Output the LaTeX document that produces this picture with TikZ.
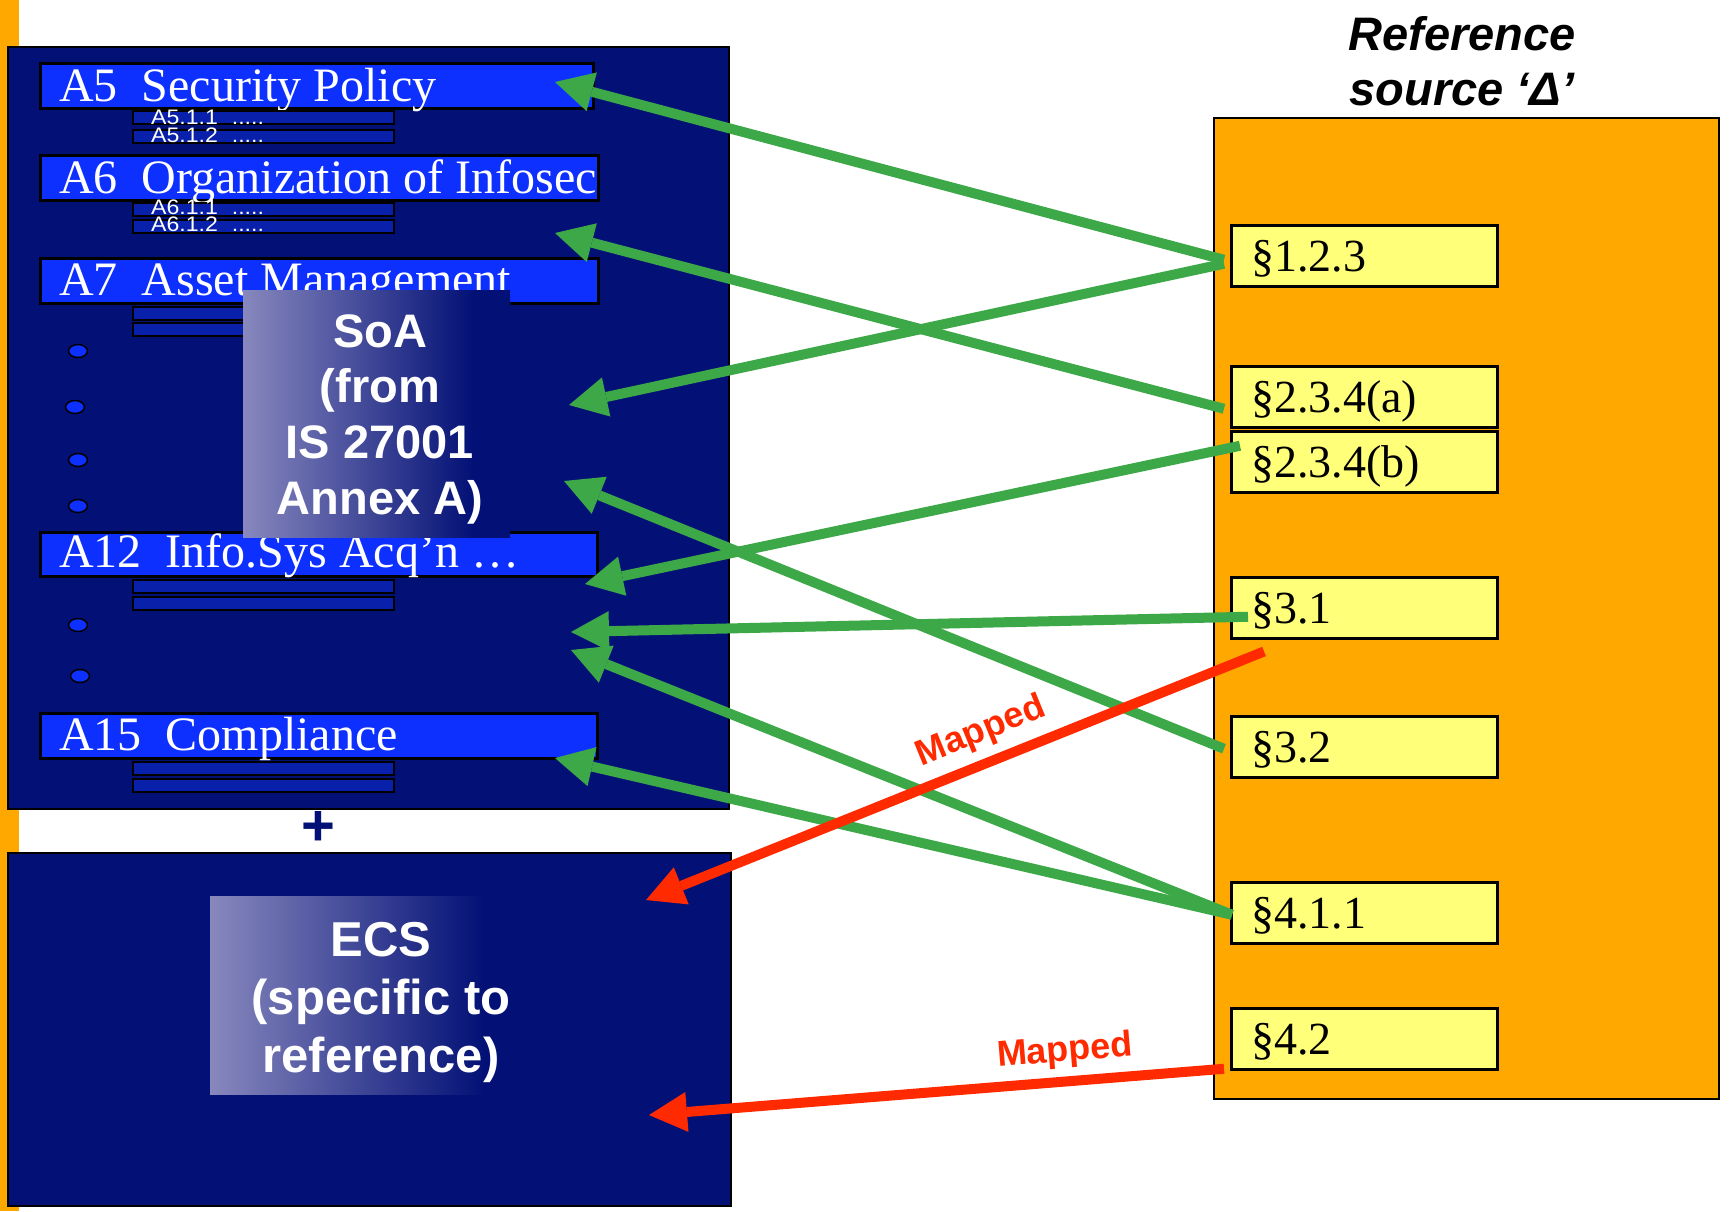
\documentclass[tikz,border=0pt]{standalone}
\usepackage{fontspec}
\setmainfont{Liberation Serif}
\newfontfamily\sansf{Liberation Sans}
\usetikzlibrary{arrows.meta,calc}

\definecolor{navy}{RGB}{3,17,118}
\definecolor{barblue}{RGB}{14,48,255}
\definecolor{subblue}{RGB}{8,32,170}
\definecolor{slideorange}{RGB}{255,168,0}
\definecolor{refyellow}{RGB}{255,255,122}
\definecolor{mapgreen}{RGB}{61,168,72}
\definecolor{mapred}{RGB}{255,42,0}
\definecolor{fadelight}{RGB}{136,136,190}

% light-to-navy fade used behind the two panel captions
\pgfdeclarehorizontalshading{panelfade}{100bp}{color(0bp)=(fadelight); color(25bp)=(fadelight); color(68bp)=(navy); color(100bp)=(navy)}

\tikzset{
  panel/.style={draw=black, line width=2pt, fill=navy, inner sep=0pt, anchor=north west},
  bar/.style={draw=black, line width=3pt, fill=barblue, inner sep=0pt, anchor=north west, minimum height=45pt},
  subbar/.style={draw=black, line width=2pt, fill=subblue, inner sep=0pt, anchor=north west, minimum width=261pt, minimum height=13pt},
  bartext/.style={text=white, font=\fontsize{48}{48}\selectfont, inner sep=0pt, anchor=base west},
  subtext/.style={text=white, font=\sansf\fontsize{21}{21}\selectfont, inner sep=0pt, anchor=base west},
  fadebox/.style={shade, shading=panelfade, inner sep=0pt, anchor=north west},
  fadetext/.style={text=white, font=\sansf\bfseries\fontsize{47}{47}\selectfont, inner sep=0pt, anchor=base},
  refbox/.style={draw=black, line width=2pt, fill=slideorange, inner sep=0pt, anchor=north west},
  ybox/.style={draw=black, line width=2.5pt, fill=refyellow, inner sep=0pt, anchor=north west, minimum width=266pt, minimum height=61pt},
  ytext/.style={font=\fontsize{46}{46}\selectfont, inner sep=0pt, anchor=base west},
  titletext/.style={font=\sansf\bfseries\itshape\fontsize{47}{47}\selectfont, inner sep=0pt, anchor=base},
  garrow/.style={draw=mapgreen, line width=10pt, -{Triangle[length=38pt,width=40pt,line width=0pt]}},
  rarrow/.style={draw=mapred, line width=10pt, -{Triangle[length=38pt,width=40pt,line width=0pt]}},
  maplabel/.style={text=mapred, font=\sansf\bfseries\fontsize{36}{36}\selectfont, inner sep=0pt},
  dot/.style={draw=black, line width=1.5pt, fill=barblue}
}

\newcommand{\annexitem}[2]{\scalebox{1.1}[1]{#1\hspace{0.6em}#2}}

\begin{document}
\begin{tikzpicture}[x=1pt,y=-1pt]
\useasboundingbox (0,0) rectangle (1729,1211);
\fill[white] (0,0) rectangle (1729,1211);
\fill[slideorange] (0,0) rectangle (19,1211);

% ---------- Statement of Applicability panel ----------
\node[panel, minimum width=721pt, minimum height=762pt] (soapanel) at (7,46) {};

\node[bar, minimum width=553pt] (a5) at (39,62) {};
\node[bartext] (a5t) at (59,101) {A5\hspace{0.5em}Security Policy};
\node[subbar] (a51) at (132,110) {};
\node[subbar] (a52) at (132,129) {};
\node[subtext] (a51t) at (151,124) {\annexitem{A5.1.1}{.....}};
\node[subtext] (a52t) at (151,142) {\annexitem{A5.1.2}{.....}};

\node[bar, minimum width=558pt] (a6) at (39,154) {};
\node[bartext] (a6t) at (59,193) {A6\hspace{0.5em}Organization of Infosec};
\node[subbar] (a61) at (132,202) {};
\node[subbar] (a62) at (132,219) {};
\node[subtext] (a61t) at (151,214) {\annexitem{A6.1.1}{.....}};
\node[subtext] (a62t) at (151,231) {\annexitem{A6.1.2}{.....}};

\node[bar, minimum width=558pt] (a7) at (39,257) {};
\node[bartext] (a7t) at (59,295) {A7\hspace{0.5em}Asset Management};
\node[subbar] (a71) at (132,306) {};
\node[subbar] (a72) at (132,322) {};

\draw[dot] (78,351) ellipse [x radius=9.5, y radius=6.5];
\draw[dot] (75,407) ellipse [x radius=9.5, y radius=6.5];
\draw[dot] (78,460) ellipse [x radius=9.5, y radius=6.5];
\draw[dot] (78,506) ellipse [x radius=9.5, y radius=6.5];

\node[bar, minimum width=557pt, minimum height=44pt] (a12) at (39,531) {};
\node[bartext] (a12t) at (59,567) {A12\hspace{0.5em}Info.Sys Acq’n …};
\node[subbar] (a121) at (132,579) {};
\node[subbar] (a122) at (132,596) {};

\draw[dot] (78,625) ellipse [x radius=9.5, y radius=6.5];
\draw[dot] (80,676) ellipse [x radius=9.5, y radius=6.5];

\node[bar, minimum width=557pt] (a15) at (39,712) {};
\node[bartext] (a15t) at (59,750) {A15\hspace{0.5em}Compliance};
\node[subbar] (a151) at (132,761) {};
\node[subbar] (a152) at (132,778) {};

\node[fadebox, minimum width=267pt, minimum height=247pt] (soabox) at (243,290) {};
\node[fadetext] (soa1) at (380,347) {SoA};
\node[fadetext] (soa2) at (380,402) {(from};
\node[fadetext] (soa3) at (380,458) {IS 27001};
\node[fadetext] (soa4) at (380,514) {Annex A)};

\node[text=navy, font=\sansf\bfseries\fontsize{58}{58}\selectfont, inner sep=0pt] (plus) at (318,828) {+};

% ---------- ECS panel ----------
\node[panel, minimum width=723pt, minimum height=353pt] (ecspanel) at (7,852) {};
\node[fadebox, minimum width=318pt, minimum height=198pt] (ecsbox) at (210,896) {};
\node[fadetext, font=\sansf\bfseries\fontsize{49}{49}\selectfont] (ecs1) at (381,956) {ECS};
\node[fadetext, font=\sansf\bfseries\fontsize{49}{49}\selectfont] (ecs2) at (381,1014) {(specific to};
\node[fadetext, font=\sansf\bfseries\fontsize{49}{49}\selectfont] (ecs3) at (381,1072) {reference)};

% ---------- Reference source ----------
\node[titletext] (title1) at (1462,50) {Reference};
\node[titletext] (title2) at (1462,105) {source ‘Δ’};
\node[refbox, minimum width=505pt, minimum height=981pt] (refsrc) at (1213,117) {};

\node[ybox] (s123) at (1230,224) {};
\node[ytext] (s123t) at (1251,271) {§1.2.3};
\node[ybox] (s234a) at (1230,365) {};
\node[ytext] (s234at) at (1251,412) {§2.3.4(a)};
\node[ybox] (s234b) at (1230,430) {};
\node[ytext] (s234bt) at (1251,477) {§2.3.4(b)};
\node[ybox] (s31) at (1230,576) {};
\node[ytext] (s31t) at (1251,623) {§3.1};
\node[ybox] (s32) at (1230,715) {};
\node[ytext] (s32t) at (1251,762) {§3.2};
\node[ybox] (s411) at (1230,881) {};
\node[ytext] (s411t) at (1251,928) {§4.1.1};
\node[ybox] (s42) at (1230,1007) {};
\node[ytext] (s42t) at (1251,1054) {§4.2};

% ---------- connector ends ----------
\coordinate (t123a) at ($(s123.west)+(-6,4)$);
\coordinate (t123b) at ($(s123.west)+(-6,8)$);
\coordinate (t234a) at ($(s234a.west)+(-6,12)$);
\coordinate (t234b) at ($(s234b.west)+(10,-16)$);
\coordinate (t31)   at ($(s31.west)+(18,9)$);
\coordinate (t32)   at ($(s32.west)+(-6,2)$);
\coordinate (t411)  at ($(s411.west)+(2,2)$);
\coordinate (t31r)  at ($(s31.south west)+(34,12)$);
\coordinate (t42)   at ($(s42.west)+(-6,30)$);

\coordinate (hA5)   at (555,82);
\coordinate (hA6)   at (555,233);
\coordinate (hSoAa) at (569,405);
\coordinate (hSoAb) at (564,481);
\coordinate (hA12)  at (585,584);
\coordinate (hMida) at (571,632);
\coordinate (hMidb) at (571,650);
\coordinate (hA15)  at (555,758);
\coordinate (hEcsA) at (646,900);
\coordinate (hEcsB) at (649,1115);

% ---------- mappings ----------
\draw[garrow] (t123a) -- (hA5);
\draw[garrow] (t123b) -- (hSoAa);
\draw[garrow] (t234a) -- (hA6);
\draw[garrow] (t234b) -- (hA12);
\draw[garrow] (t31) -- (hMida);
\draw[garrow] (t32) -- (hSoAb);
\draw[garrow] (t411) -- (hMidb);
\draw[garrow] (t411) -- (hA15);

\draw[rarrow] (t31r) -- (hEcsA);
\draw[rarrow] (t42) -- (hEcsB);

\node[maplabel, rotate=22.2] (map1) at (981,732) {Mapped};
\node[maplabel, rotate=4.7] (map2) at (1065,1052) {Mapped};
\end{tikzpicture}
\end{document}
